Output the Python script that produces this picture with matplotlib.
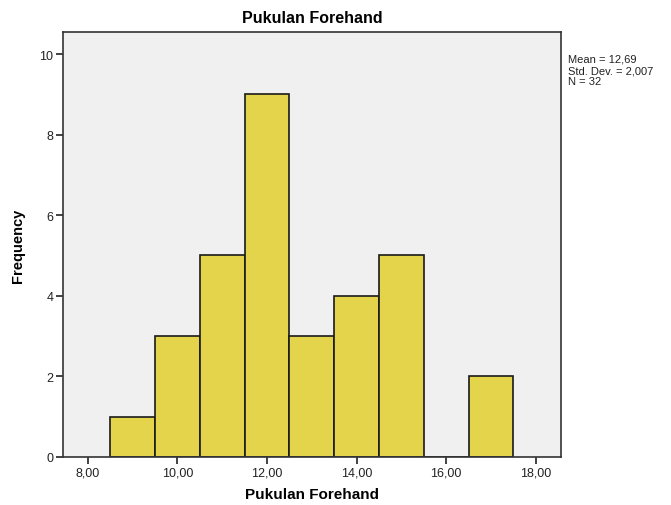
import matplotlib
matplotlib.use("Agg")
import matplotlib.pyplot as plt
import numpy as np

# data
bin_edges = [8.5, 9.5, 10.5, 11.5, 12.5, 13.5, 14.5, 15.5, 16.5, 17.5]
counts = [1, 3, 5, 9, 3, 4, 5, 0, 2]
x_ticks = [8, 10, 12, 14, 16, 18]
x_tick_labels = ["8,00", "10,00", "12,00", "14,00", "16,00", "18,00"]
y_ticks = [0, 2, 4, 6, 8, 10]
stats_text = "Mean = 12,69\nStd. Dev. = 2,007\nN = 32"

plt.rcParams['font.family'] = ['Liberation Sans', 'DejaVu Sans']

fig = plt.figure(figsize=(6.71, 5.06), dpi=100)
ax = fig.add_axes([0.094, 0.095, 0.742, 0.840])
ax.set_facecolor("#F0F0F0")

lefts = np.array(bin_edges[:-1])
widths = np.diff(bin_edges)
ax.bar(lefts, counts, width=widths, align="edge", color="#E3D44C",
       edgecolor="#1a1a1a", linewidth=1.2)

ax.set_xlim(7.45, 18.56)
ax.set_ylim(0, 10.55)
ax.set_xticks(x_ticks)
ax.set_xticklabels(x_tick_labels)
ax.set_yticks(y_ticks)
ax.tick_params(axis="both", direction="out", length=5, width=1.2, labelsize=9,
               colors="#222222", pad=2)
for s in ax.spines.values():
    s.set_color("#333333")
    s.set_linewidth(1.2)

ax.set_title("Pukulan Forehand", fontsize=11.5, fontweight="bold", pad=7)
ax.set_xlabel("Pukulan Forehand", fontsize=11, fontweight="bold", labelpad=6)
ax.set_ylabel("Frequency", fontsize=10.5, fontweight="bold", labelpad=10)

fig.text(568 / 671, 1 - 55 / 506, stats_text, fontsize=8, va="top", ha="left",
         linespacing=1.15, color="#222222")

fig.savefig("out.png", dpi=100)
